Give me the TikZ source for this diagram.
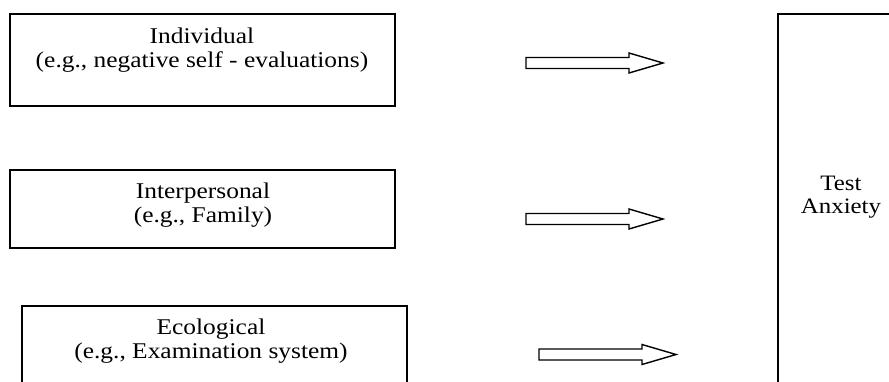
\documentclass[tikz,border=0pt]{standalone}
\usepackage{fontspec}
\setmainfont{Liberation Serif}[FakeStretch=1.13]
\begin{document}
\begin{tikzpicture}[x=1pt,y=-1pt,
  box/.style={draw=black,line width=1.7pt,inner sep=0pt},
  lbl/.style={align=center,inner sep=0pt,font=\fontsize{22.5}{24}\selectfont},
  arrowline/.style={draw=black,line width=1.4pt,fill=white,line join=miter},
  blockarrow/.pic={\path[arrowline] (0,-5.5) -- (103,-5.5) -- (103,-10) -- (137,0) -- (103,10) -- (103,5.5) -- (0,5.5) -- cycle;}
]
\clip (0,0) rectangle (889,381);
% boxes
\node[box,minimum width=385pt,minimum height=92pt] (ind) at (202.5,60) {};
\node[box,minimum width=385pt,minimum height=78pt] (inter) at (202.5,209) {};
\node[box,minimum width=385pt,minimum height=120pt] (eco) at (214.5,366) {};
\node[box,minimum width=140pt,minimum height=400pt] (ta) at (848,214) {};
% labels
\node[lbl] (tind) at (202,50) {Individual\\(e.g., negative self - evaluations)};
\node[lbl] (tinter) at (203,205.5) {Interpersonal\\(e.g., Family)};
\node[lbl] (teco) at (211,341.5) {Ecological\\(e.g., Examination system)};
\node[lbl,font=\fontsize{22}{23}\selectfont] (tta) at (841,197.5) {Test\\Anxiety};
% block arrows
\pic at (526,63) {blockarrow};
\pic at (526,219) {blockarrow};
\pic at (539,354.5) {blockarrow};
\end{tikzpicture}
\end{document}
